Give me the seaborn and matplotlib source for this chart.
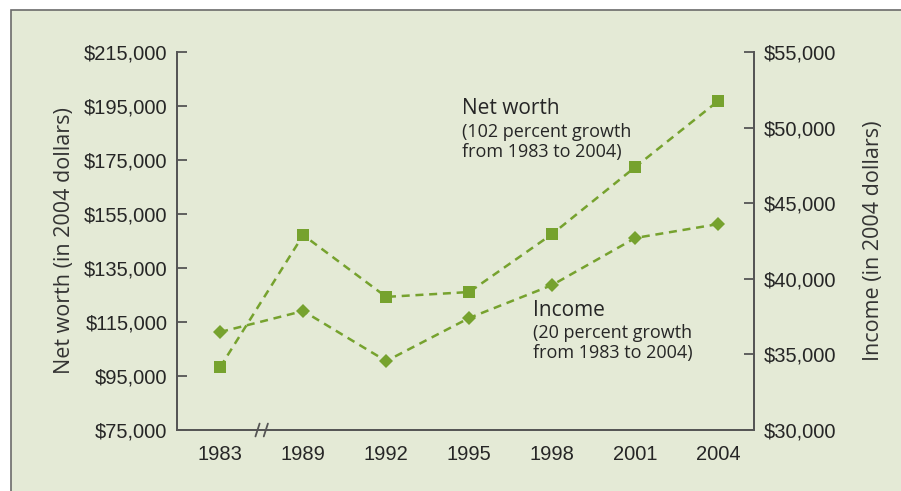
import matplotlib
matplotlib.use("Agg")
import matplotlib.pyplot as plt
import matplotlib.transforms as mtransforms
from matplotlib.patches import Rectangle
from matplotlib.ticker import FuncFormatter
import pandas as pd
import seaborn as sns

# values
years = ["1983", "1989", "1992", "1995", "1998", "2001", "2004"]
net_worth = [98300, 147200, 124300, 126100, 147600, 172400, 196900]
income = [36480, 37870, 34560, 37410, 39590, 42700, 43620]
nw_ticks = list(range(75000, 215001, 20000))
inc_ticks = list(range(30000, 55001, 5000))

df = pd.DataFrame({"pos": range(len(years)), "year": years,
                   "net_worth": net_worth, "income": income})

sns.set_style("white")
plt.rcParams["font.family"] = ["Liberation Sans", "DejaVu Sans"]

green = "#76a22e"
panel = "#e4ead6"
txt = "#262626"
spine_c = "#555555"

fig = plt.figure(figsize=(9.01, 4.91), dpi=100)
fig.patch.set_facecolor("white")
# light green panel, thin border on top and left only
fig.patches.append(Rectangle((11 / 901, -0.1), 1.2, 1.1 - 10 / 491,
                             transform=fig.transFigure, facecolor=panel,
                             edgecolor="#6b6b6b", linewidth=1.2, zorder=-10))

ax = fig.add_axes([177 / 901, 1 - 430 / 491, 577 / 901, 378 / 491])
ax.set_facecolor("none")
ax2 = ax.twinx()

dash = (0, (3.2, 2.3))
sns.lineplot(data=df, x="pos", y="net_worth", ax=ax, color=green,
             marker="s", markersize=8, markeredgewidth=0, linewidth=1.8,
             linestyle=dash, clip_on=False)
sns.lineplot(data=df, x="pos", y="income", ax=ax2, color=green,
             marker="D", markersize=7.6, markeredgewidth=0, linewidth=1.8,
             linestyle=dash, clip_on=False)

ax.set_xlim(-0.52, 6.43)
ax.set_ylim(nw_ticks[0], nw_ticks[-1])
ax2.set_ylim(inc_ticks[0], inc_ticks[-1])
ax.set_yticks(nw_ticks)
ax2.set_yticks(inc_ticks)
money = FuncFormatter(lambda v, p: f"${v:,.0f}")
ax.yaxis.set_major_formatter(money)
ax2.yaxis.set_major_formatter(money)

ax.set_xticks(range(len(years)))
ax.set_xticklabels(years)
ax.set_xticks([1.5, 2.5, 3.5, 4.5, 5.5], minor=True)
ax.tick_params(axis="x", which="major", length=0, pad=11, labelsize=14.5, labelcolor=txt)
ax.tick_params(axis="x", which="minor", direction="in", length=7, width=1.3, color=spine_c)
ax.tick_params(axis="y", direction="in", length=7, width=1.3, color=spine_c,
               pad=7, labelsize=14.5, labelcolor=txt)
ax2.tick_params(axis="y", direction="in", length=7, width=1.3, color=spine_c,
                pad=7, labelsize=14.5, labelcolor=txt)

for a in (ax, ax2):
    a.spines["top"].set_visible(False)
    for s in ("left", "right", "bottom"):
        a.spines[s].set_color(spine_c)
        a.spines[s].set_linewidth(1.3)

lab_font = ["Open Sans", "DejaVu Sans"]
ax.set_xlabel("")
ax.set_ylabel("Net worth (in 2004 dollars)", fontsize=15.5, color="#333333",
              labelpad=6, family=lab_font)
ax2.set_ylabel("Income (in 2004 dollars)", fontsize=15.5, color="#333333",
               rotation=90, labelpad=19, family=lab_font)

# axis break marks between 1983 and 1989
brk = mtransforms.blended_transform_factory(ax.transData, ax.transAxes)
for xc in (0.45, 0.55):
    ax.plot([xc - 0.025, xc + 0.025], [-0.017, 0.017], transform=brk,
            color=spine_c, linewidth=1.3, clip_on=False)

# series notes
note_font = ["Open Sans", "DejaVu Sans"]
ax.text(0.494, 0.878, "Net worth", transform=ax.transAxes, fontsize=15,
        color=txt, va="top", ha="left", family=note_font)
ax.text(0.494, 0.812, "(102 percent growth\nfrom 1983 to 2004)", transform=ax.transAxes,
        fontsize=13, color=txt, va="top", ha="left", linespacing=1.15, family=note_font)
ax.text(0.617, 0.343, "Income", transform=ax.transAxes, fontsize=15,
        color=txt, va="top", ha="left", family=note_font)
ax.text(0.617, 0.281, "(20 percent growth\nfrom 1983 to 2004)", transform=ax.transAxes,
        fontsize=13, color=txt, va="top", ha="left", linespacing=1.15, family=note_font)

plt.savefig("out.png", dpi=100)
